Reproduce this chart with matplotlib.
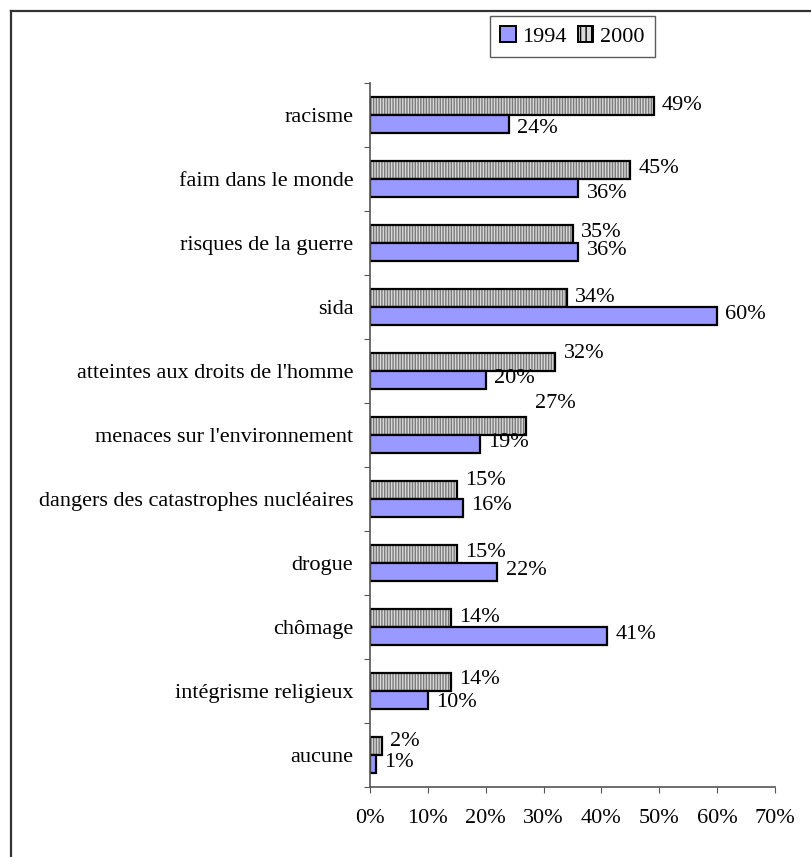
import matplotlib
matplotlib.use('Agg')
import matplotlib.pyplot as plt
from matplotlib.patches import Patch
from matplotlib.lines import Line2D
import numpy as np

plt.rcParams['font.family'] = ['Liberation Serif', 'DejaVu Serif']

# data (top to bottom)
categories = ['racisme', 'faim dans le monde', 'risques de la guerre', 'sida',
              "atteintes aux droits de l'homme", "menaces sur l'environnement",
              'dangers des catastrophes nucléaires', 'drogue', 'chômage',
              'intégrisme religieux', 'aucune']
vals_2000 = [49, 45, 35, 34, 32, 27, 15, 15, 14, 14, 2]
vals_1994 = [24, 36, 36, 60, 20, 19, 16, 22, 41, 10, 1]
xticks = [0, 10, 20, 30, 40, 50, 60, 70]

# label vertical nudges (pixels, + = down), mimic the excel placement
dy_2000 = [-1, -2, -2, -1, -9, -23, -10, -2, -1, -3, -5]
dy_1994 = [5, 6, -1, -1, -1, -1, -2, -1, -1, 3, -1]

fs = 16
col_1994 = '#9999ff'
col_2000 = '#d9d9d9'
hatch_2000 = '||||||'

fig = plt.figure(figsize=(8.11, 8.57), dpi=100)
ax = fig.add_axes([370/811, 1-787/857, 405/811, 704/857])

n = len(categories)
y = np.arange(n)
h = 0.28

y00 = y - h/2
y94 = y + h/2

# 2000 bars: hatch first, then outline
ax.barh(y00, vals_2000, height=h, color=col_2000, hatch=hatch_2000,
        edgecolor='#7a7a7a', linewidth=0)
ax.barh(y00, vals_2000, height=h, fill=False, edgecolor='black', linewidth=1.6)
ax.barh(y94, vals_1994, height=h, color=col_1994, edgecolor='black', linewidth=1.6)

for i in range(n):
    ax.annotate(f'{vals_2000[i]}%', (vals_2000[i], y00[i]), xytext=(6, -dy_2000[i]*0.72),
                textcoords='offset points', ha='left', va='center', fontsize=fs)
    ax.annotate(f'{vals_1994[i]}%', (vals_1994[i], y94[i]), xytext=(6, -dy_1994[i]*0.72),
                textcoords='offset points', ha='left', va='center', fontsize=fs)

ax.set_xlim(0, 70)
ax.set_ylim(n - 0.5, -0.5)
ax.set_xticks(xticks)
ax.set_xticklabels([f'{t}%' for t in xticks], fontsize=fs)
ax.set_yticks(np.arange(-0.5, n, 1.0))
ax.set_yticklabels([])
ax.set_yticks(y, minor=True)
ax.set_yticklabels(categories, minor=True, fontsize=fs)
ax.tick_params(axis='y', which='minor', length=0, pad=12)
ax.tick_params(axis='y', which='major', length=4, color='#555555', direction='out')
ax.tick_params(axis='x', length=4, color='#555555', direction='out', pad=12)

for s in ['top', 'right']:
    ax.spines[s].set_visible(False)
for s in ['left', 'bottom']:
    ax.spines[s].set_color('#555555')
    ax.spines[s].set_linewidth(1.2)

handles = [Patch(facecolor=col_1994, edgecolor='black', linewidth=1.4),
           Patch(facecolor=col_2000, edgecolor='black', hatch='|||', linewidth=1.4)]
leg = fig.legend(handles, ['1994', '2000'], loc='upper left',
                 bbox_to_anchor=(490/811, 1-16/857), ncol=2, fontsize=fs,
                 frameon=True, fancybox=False, handlelength=0.7, handleheight=0.7,
                 handletextpad=0.3, columnspacing=0.5, borderpad=0.45,
                 borderaxespad=0)
leg.get_frame().set_edgecolor('#333333')
leg.get_frame().set_linewidth(1.0)

# outer frame (left + top only visible)
fig.add_artist(Line2D([11/811, 11/811], [0, 1-11/857], color='#333333', lw=1.6))
fig.add_artist(Line2D([11/811, 1], [1-11/857, 1-11/857], color='#333333', lw=1.6))

fig.savefig('out.png', dpi=100)
